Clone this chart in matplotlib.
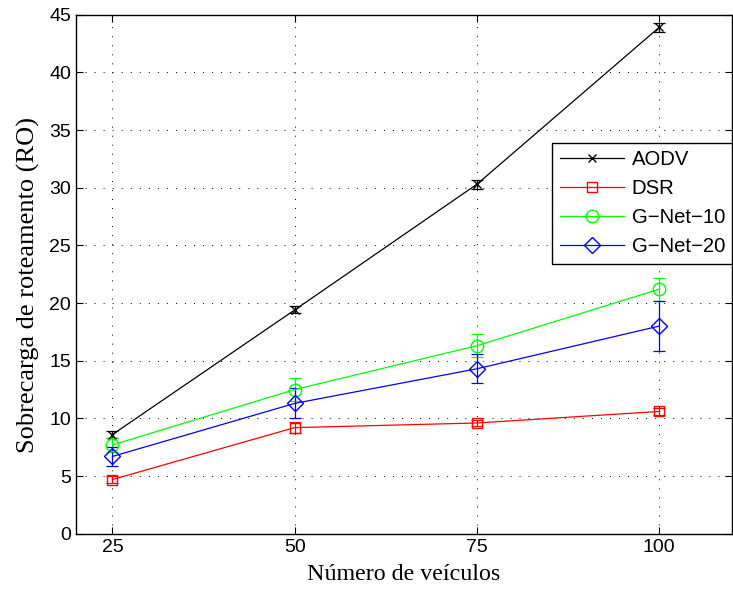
import matplotlib
matplotlib.use('Agg')
import matplotlib.pyplot as plt
from matplotlib.lines import Line2D

# data
veiculos = [25, 50, 75, 100]
aodv = [8.6, 19.4, 30.3, 43.9]
aodv_err = [0.3, 0.3, 0.4, 0.4]
dsr = [4.7, 9.2, 9.6, 10.6]
dsr_err = [0.3, 0.5, 0.3, 0.3]
gnet10 = [7.7, 12.5, 16.3, 21.2]
gnet10_err = [0.6, 1.0, 1.0, 1.0]
gnet20 = [6.7, 11.3, 14.3, 18.0]
gnet20_err = [0.8, 1.3, 1.25, 2.15]

plt.rcParams['font.family'] = ['Liberation Sans', 'DejaVu Sans']

fig = plt.figure(figsize=(7.33, 5.9), dpi=100)
ax = fig.add_axes([0.1037, 0.0954, 0.895, 0.8797])

series = [
    ('AODV', aodv, aodv_err, 'black', 'x', 6),
    ('DSR', dsr, dsr_err, '#ff0000', 's', 7),
    ('G\u2212Net\u221210', gnet10, gnet10_err, '#00ff00', 'o', 9),
    ('G\u2212Net\u221220', gnet20, gnet20_err, '#0000ff', 'D', 8),
]

handles = []
for name, vals, err, col, mk, ms in series:
    ax.errorbar(veiculos, vals, yerr=err, color=col, marker=mk, markersize=ms,
                markerfacecolor='none', markeredgecolor=col, lw=0.9,
                elinewidth=0.9, capsize=4, capthick=0.9)
    handles.append(Line2D([], [], color=col, marker=mk, markersize=ms,
                          markerfacecolor='none', markeredgecolor=col, lw=0.9,
                          label=name))

ax.set_xlim(20, 110)
ax.set_ylim(0, 45)
ax.set_xticks(veiculos)
ax.set_yticks(range(0, 46, 5))
ax.grid(True, linestyle=(0, (1, 8.3)), color='black', lw=0.7)
ax.tick_params(direction='in', top=True, right=True, labelsize=14, length=5)
for s in ax.spines.values():
    s.set_linewidth(1.0)

ax.set_xlabel('Número de veículos', family='Liberation Serif', fontsize=17.3)
ax.xaxis.set_label_coords(0.5, -0.058)
ax.set_ylabel('Sobrecarga de roteamento (RO)', family='Liberation Serif', fontsize=19)
ax.yaxis.set_label_coords(-0.055, 0.479)

leg = ax.legend(handles=handles, loc='upper right', bbox_to_anchor=(1.0, 0.753),
                fontsize=14.6, fancybox=False, edgecolor='black', framealpha=1,
                borderaxespad=0, handlelength=3.2, handletextpad=0.35,
                labelspacing=0.5, borderpad=0.35)
leg.get_frame().set_linewidth(1.0)

fig.savefig('out.png', dpi=100)
